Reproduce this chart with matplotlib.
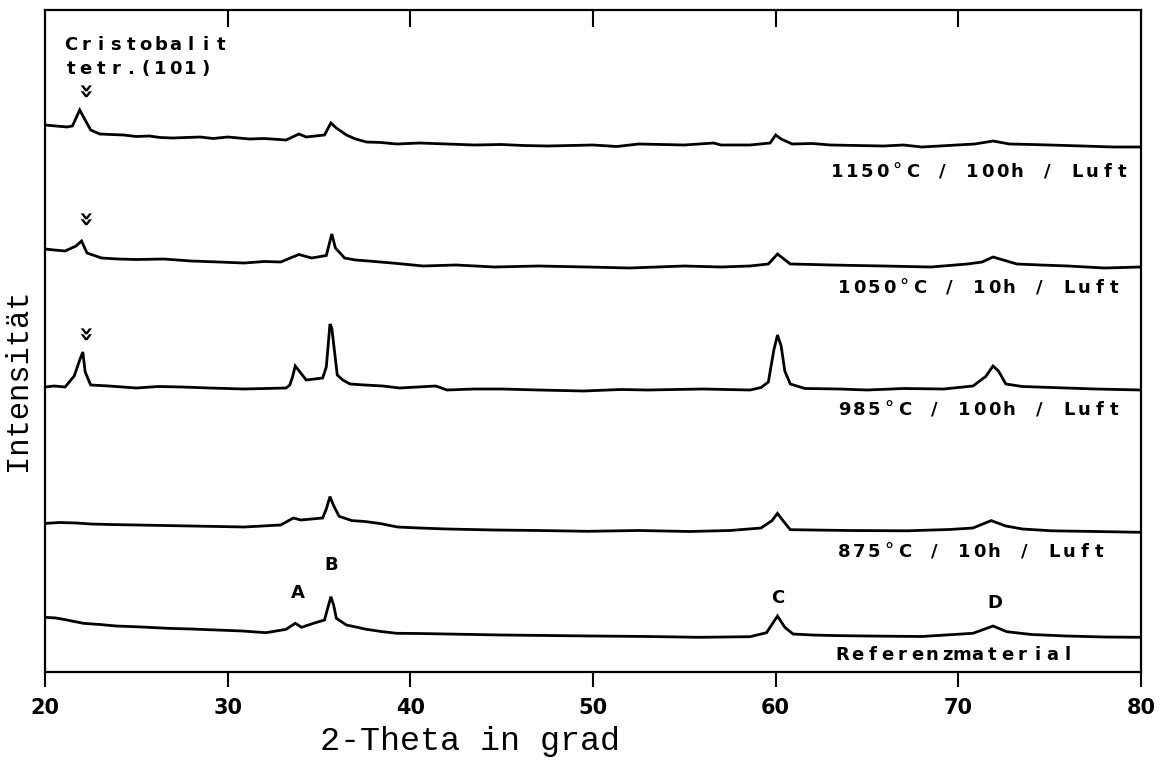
import matplotlib
matplotlib.use("Agg")
import matplotlib.pyplot as plt
from matplotlib.transforms import offset_copy

# 2-theta (deg) / intensity (arb. units, stacked)
theta_1150 = [20.0, 20.6, 21.2, 21.5, 21.9, 22.2, 22.5, 23.0, 23.6, 24.3, 25.0, 25.7, 26.3,
              27.0, 28.5, 29.2, 30.0, 31.2, 32.0, 33.2, 33.9, 34.3, 35.3, 35.65, 35.95,
              36.5, 37.0, 37.6, 38.4, 39.25, 40.5, 42.0, 43.5, 45.0, 46.2, 47.5, 50.0,
              51.3, 52.5, 55.0, 56.6, 57.0, 58.6, 59.7, 60.0, 60.3, 60.9, 62.0, 63.0,
              65.9, 67.0, 68.0, 70.9, 71.9, 72.8, 74.0, 75.0, 76.8, 78.5, 80.0]
int_1150 = [547, 546, 545, 546, 562, 552, 542, 538, 537.5, 537, 535.5, 536, 534.5,
            534, 535, 533.5, 535, 533, 533.5, 532, 538, 535, 537, 549, 544,
            537, 533, 530, 529.5, 528, 529, 528, 527, 527.5, 526.5, 526, 527,
            525.5, 528, 527, 529, 527, 527, 529, 537, 533, 528, 528.5, 527,
            526, 527, 525, 528, 531, 528, 527.5, 527, 526, 525, 525]

theta_1050 = [20.0, 20.5, 21.1, 21.7, 22.0, 22.3, 23.1, 24.0, 25.0, 26.5, 28.0, 29.5, 30.9,
              32.0, 32.9, 33.9, 34.6, 35.4, 35.7, 35.9, 36.4, 37.0, 37.7, 39.0, 40.7,
              42.5, 44.6, 47.0, 49.7, 52.0, 55.0, 57.0, 58.6, 59.6, 60.1, 60.8, 62.0,
              63.0, 65.9, 68.5, 70.5, 71.3, 71.9, 73.2, 74.5, 76.0, 78.0, 80.0]
int_1050 = [423, 422, 421, 426, 431, 419, 414, 413, 412.5, 413, 411, 410, 409,
            410.5, 410, 417.5, 414, 416.5, 438, 424, 414, 412, 411, 409, 406,
            407, 405, 406, 405, 404, 406, 405, 406, 408, 418, 408, 407.5,
            407, 406, 405, 408, 410, 415, 408, 407, 406, 404, 405]

theta_985 = [20.0, 20.5, 21.1, 21.6, 21.9, 22.07, 22.2, 22.5, 23.5, 25.0, 26.2, 27.5, 29.0,
             30.9, 33.2, 33.4, 33.55, 33.7, 34.3, 35.2, 35.4, 35.6, 35.7, 36.0, 36.3,
             36.7, 37.5, 38.5, 39.4, 41.4, 42.0, 43.5, 45.0, 47.0, 49.5, 51.5, 53.0,
             56.0, 58.6, 59.2, 59.6, 59.9, 60.1, 60.3, 60.5, 60.8, 61.6, 63.5, 65.0,
             67.0, 69.2, 70.8, 71.5, 71.9, 72.2, 72.6, 73.5, 75.1, 77.5, 80.0]
int_985 = [285, 286, 285, 296, 312, 320, 300, 287, 286, 284, 285.5, 285, 284,
           283, 284, 287, 295, 306, 292, 294, 305, 348, 344, 297, 292,
           288, 287, 286, 284, 286, 282, 283, 283, 282, 281, 282.5, 282,
           283, 282, 284.5, 290, 322, 337, 326, 301, 288, 283.5, 283, 282,
           283.5, 283, 286, 295.5, 306, 301, 288, 285.5, 284.5, 283, 282]

theta_875 = [20.0, 20.8, 21.7, 22.5, 23.5, 25.0, 26.5, 28.0, 29.5, 30.9, 32.9, 33.6, 34.0,
             35.2, 35.4, 35.6, 35.8, 36.1, 36.8, 37.5, 38.3, 39.3, 40.5, 42.0, 44.6,
             47.0, 49.7, 52.5, 55.3, 57.5, 59.2, 59.8, 60.1, 60.4, 60.8, 62.0, 64.0,
             67.2, 69.5, 70.8, 71.8, 72.6, 73.5, 75.1, 77.5, 80.0]
int_875 = [148.6, 149.5, 149, 148, 147.5, 147, 146.5, 146, 145.5, 145, 147, 154, 152,
           154, 163, 175.4, 166.4, 155.7, 151.4, 150.5, 148.6, 145, 144, 143, 142,
           141.5, 140.7, 141.5, 140.5, 141.5, 144, 151.4, 158.6, 151.4, 142.3, 142, 141.5,
           141.2, 142.5, 144, 151.4, 146, 143, 141.2, 140.5, 139.7]

theta_ref = [20.0, 20.6, 21.2, 22.1, 23.0, 23.9, 25.3, 26.7, 28.0, 29.4, 30.8, 32.1, 33.2,
             33.7, 34.05, 34.7, 35.3, 35.5, 35.65, 35.8, 35.95, 36.5, 37.6, 38.4, 39.25,
             40.5, 42.0, 45.0, 47.5, 50.0, 53.0, 55.8, 58.6, 59.5, 60.1, 60.5, 60.95,
             62.0, 63.0, 65.0, 68.0, 70.8, 71.9, 72.65, 74.0, 75.9, 78.0, 80.0]
int_ref = [54.7, 54, 52, 48.7, 47.5, 46, 45, 43.7, 43, 42, 41, 39.3, 42.7,
           48.7, 44.7, 48.7, 52, 65.3, 75.3, 67, 53.7, 47, 42.7, 40.5, 38.7,
           38.5, 38, 37, 36.5, 36, 35.5, 34.7, 35.3, 39.3, 56, 44.7, 38,
           37, 36.5, 36, 35.5, 38.7, 46, 40.3, 37.5, 36, 35, 34.7]

scans = [
    (theta_1150, int_1150, "1150°C / 100h / Luft", 79.39, 500),
    (theta_1050, int_1050, "1050°C / 10h / Luft", 78.95, 384),
    (theta_985, int_985, "985°C / 100h / Luft", 78.95, 262),
    (theta_875, int_875, "875°C / 10h / Luft", 78.13, 120),
    (theta_ref, int_ref, "Referenzmaterial", 76.38, 17),
]

# cristobalite (101) markers above the 22 deg reflection
cristo_theta = 22.0
cristo_marks = [580, 452, 337]

peak_letters = ["A", "B", "C", "D"]
peak_theta = [33.85, 35.65, 60.1, 72.0]
peak_int = [79, 107, 74, 69]

BOLD = "DejaVu Sans"
TYPE = "Liberation Mono"

fig = plt.figure(figsize=(11.6, 7.6), dpi=100)
ax = fig.add_axes([45 / 1160, 88 / 760, 1096 / 1160, 662 / 760])


def spaced_text(ax, x, y, s, pitch=15, ha="left", size=13):
    # old plotter font: fixed letter pitch
    n = len(s)
    start = {"left": 0, "right": -n * pitch, "center": -n * pitch / 2}[ha]
    for i, ch in enumerate(s):
        if ch == " ":
            continue
        tr = offset_copy(ax.transData, fig=ax.figure, x=start + (i + 0.5) * pitch,
                         y=0, units="dots")
        ax.text(x, y, ch, transform=tr, ha="center", va="center", family=BOLD,
                fontweight="bold", fontsize=size, color="black")


for th, it, label, lx, ly in scans:
    ax.plot(th, it, color="black", lw=2.0, solid_joinstyle="miter")
    spaced_text(ax, lx, ly, label, ha="right")

for y in cristo_marks:
    ax.text(cristo_theta, y, "»", rotation=-90, ha="center", va="center",
            family=BOLD, fontweight="bold", fontsize=18)

spaced_text(ax, 20.99, 627, "Cristobalit")
spaced_text(ax, 20.99, 603, "tetr.(101)")

for lab, x, y in zip(peak_letters, peak_theta, peak_int):
    ax.text(x, y, lab, ha="center", va="center", family=BOLD,
            fontweight="bold", fontsize=13)

ax.set_xlim(20, 80)
ax.set_ylim(0, 662)
ax.set_xticks([20, 30, 40, 50, 60, 70, 80])
ax.set_yticks([])
ax.tick_params(axis="x", which="both", direction="out", length=11, width=1.5,
               pad=8, top=False, labelsize=15)
for t in ax.get_xticklabels():
    t.set_family(BOLD)
    t.set_fontweight("bold")

# inward ticks along the top frame
top = ax.secondary_xaxis("top")
top.set_xticks([30, 40, 50, 60, 70])
top.tick_params(direction="in", length=12, width=1.5, labeltop=False)
top.spines["top"].set_visible(False)

for sp in ax.spines.values():
    sp.set_linewidth(1.6)

fig.text(470 / 1160, 1 - 750 / 760, "2-Theta in grad", family=TYPE, fontsize=24,
         ha="center", va="baseline")
fig.text(18 / 1160, 1 - 380 / 760, "Intensität", family=TYPE, fontsize=22,
         rotation=90, ha="center", va="center")

fig.savefig("out.png", dpi=100)
